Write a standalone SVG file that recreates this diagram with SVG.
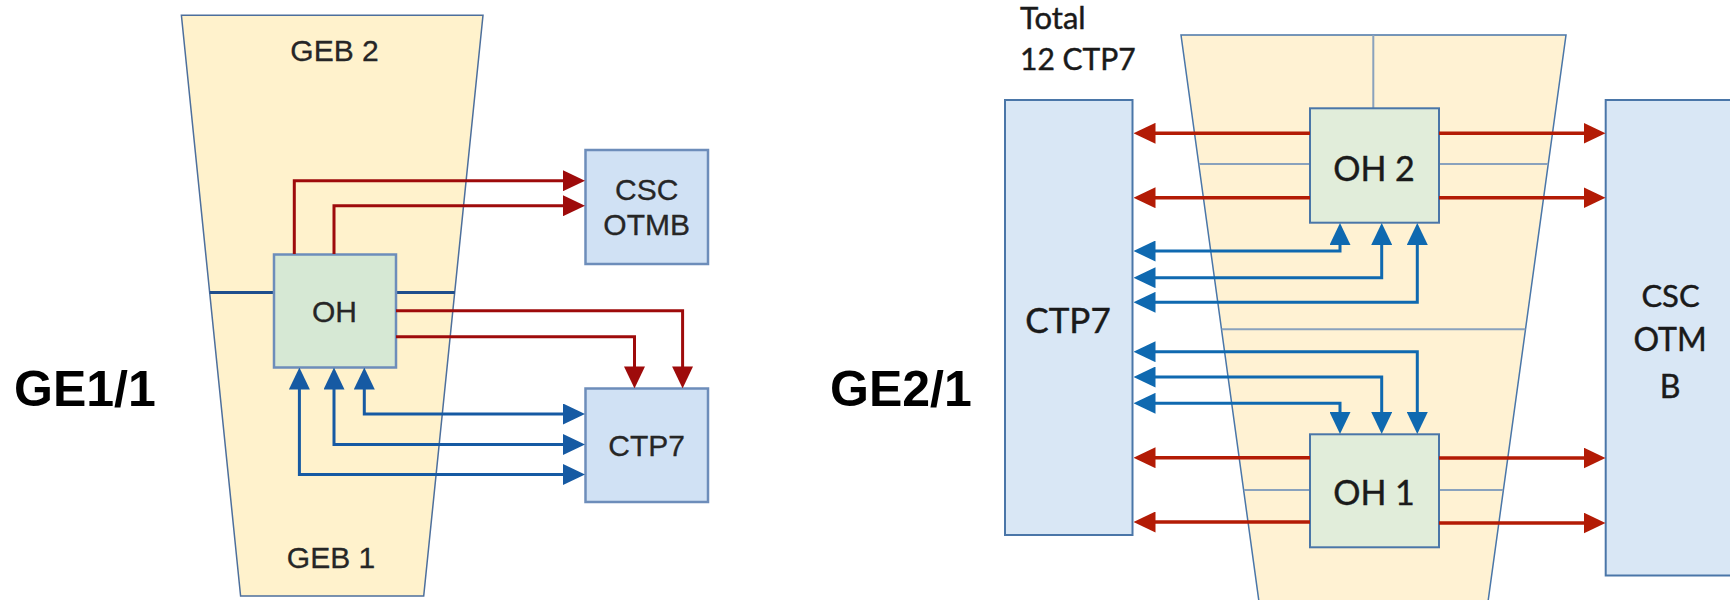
<svg xmlns="http://www.w3.org/2000/svg" width="1730" height="600" viewBox="0 0 1730 600">
<defs>
<style>
.geb1{fill:#fff2cc;stroke:#4d6f9c;stroke-width:1.5}
.geb2{fill:#fff2d3;stroke:#4a76a8;stroke-width:1.5}
.box1{fill:#d0e1f4;stroke:#6d8dba;stroke-width:2.5}
.oh1{fill:#d6e8d4;stroke:#6d8dba;stroke-width:2.5}
.box2{fill:#d9e7f5;stroke:#4a76a8;stroke-width:2}
.oh2{fill:#e1edda;stroke:#4a76a8;stroke-width:2}
.t1{font-family:"Liberation Sans",Arial,sans-serif;font-size:30px;fill:#262626;stroke:#262626;stroke-width:0.3;text-anchor:middle}
.t2{font-family:Lato,"Open Sans",sans-serif;fill:#1a1a1a;stroke:#1a1a1a;stroke-width:0.45}
.big{font-family:"Liberation Sans",Arial,sans-serif;font-size:50px;font-weight:bold;fill:#000}
.div{stroke:#8aa2bd;stroke-width:2;fill:none}
.bus{stroke:#1f4e8c;stroke-width:3;fill:none}
.r1{stroke:#9e0b0b;stroke-width:3;fill:none;marker-end:url(#mr1)}
.b1{stroke:#165aa3;stroke-width:3;fill:none;marker-start:url(#mb1);marker-end:url(#mb1)}
.r2{stroke:#b31b05;stroke-width:3.5;fill:none;marker-end:url(#mr2)}
.b2{stroke:#0f69b0;stroke-width:3;fill:none;marker-start:url(#mb2);marker-end:url(#mb2)}
</style>
<marker id="mr1" viewBox="0 0 22 21" refX="16" refY="10.5" markerWidth="22" markerHeight="21" markerUnits="userSpaceOnUse" orient="auto-start-reverse"><path d="M0,0L22,10.5L0,21z" fill="#9e0b0b"/></marker>
<marker id="mb1" viewBox="0 0 22 21" refX="16" refY="10.5" markerWidth="22" markerHeight="21" markerUnits="userSpaceOnUse" orient="auto-start-reverse"><path d="M0,0L22,10.5L0,21z" fill="#165aa3"/></marker>
<marker id="mr2" viewBox="0 0 22 21" refX="16" refY="10.5" markerWidth="22" markerHeight="21" markerUnits="userSpaceOnUse" orient="auto-start-reverse"><path d="M0,0L22,10.5L0,21z" fill="#b31b05"/></marker>
<marker id="mb2" viewBox="0 0 22 21" refX="16" refY="10.5" markerWidth="22" markerHeight="21" markerUnits="userSpaceOnUse" orient="auto-start-reverse"><path d="M0,0L22,10.5L0,21z" fill="#0f69b0"/></marker>
</defs>
<rect x="0" y="0" width="1730" height="600" fill="#fff"/>

<!-- GE1/1 -->
<g id="ge11-label"><text class="big" x="14" y="406">GE1/1</text></g>
<g id="ge11-chamber">
<polygon class="geb1" points="181.4,15.3 483,15.3 423.7,596 240.6,596"/>
<text class="t1" x="334.5" y="61">GEB 2</text>
<text class="t1" x="331" y="568">GEB 1</text>
<path class="bus" d="M209.7,292.5H274M396,292.5H454.7"/>
</g>
<g id="ge11-oh">
<rect class="oh1" x="274" y="254.5" width="122" height="113"/>
<text class="t1" x="334.5" y="322">OH</text>
</g>
<g id="ge11-otmb">
<rect class="box1" x="585.5" y="150" width="122.5" height="114"/>
<text class="t1" x="646.7" y="200">CSC</text>
<text class="t1" x="646.7" y="235">OTMB</text>
</g>
<g id="ge11-ctp7">
<rect class="box1" x="585.5" y="388.5" width="122.5" height="113.5"/>
<text class="t1" x="646.7" y="455.5">CTP7</text>
</g>
<g id="ge11-connectors">
<path class="r1" d="M294.3,254V180.7H579"/>
<path class="r1" d="M334,254V205.7H579"/>
<path class="r1" d="M396,310.7H682.6V382.4"/>
<path class="r1" d="M396,336.7H634.5V382.4"/>
<path class="b1" d="M364.3,373.5V414H579"/>
<path class="b1" d="M334,373.5V444.5H579"/>
<path class="b1" d="M299.4,373.5V474.5H579"/>
</g>

<!-- GE2/1 -->
<g id="ge21-label"><text class="big" x="830" y="406">GE2/1</text></g>
<g id="ge21-total">
<text class="t2" x="1020" y="29.3" font-size="31">Total</text>
<text class="t2" x="1020" y="70" font-size="30">12 CTP7</text>
</g>
<g id="ge21-chamber">
<polygon class="geb2" points="1181,35 1566,35 1486.6,612 1260.4,612"/>
<path class="div" d="M1373.3,35V108.3M1198.8,164H1310M1439,164H1548.2M1221.6,329.3H1525.4M1243.8,490H1310M1439,490H1503.2"/>
</g>
<g id="ge21-ctp7">
<rect class="box2" x="1005" y="100" width="127.5" height="435"/>
<text class="t2" x="1068" y="332.7" font-size="35" text-anchor="middle">CTP7</text>
</g>
<g id="ge21-oh2">
<rect class="oh2" x="1310" y="108.3" width="129" height="114.4"/>
<text class="t2" x="1374" y="180.7" font-size="34" text-anchor="middle">OH 2</text>
</g>
<g id="ge21-oh1">
<rect class="oh2" x="1310" y="434.3" width="129" height="113"/>
<text class="t2" x="1374" y="505" font-size="34" text-anchor="middle">OH 1</text>
</g>
<g id="ge21-otmb">
<rect class="box2" x="1605.7" y="100" width="140" height="475.5"/>
<text class="t2" x="1670.5" y="306.7" font-size="31" text-anchor="middle">CSC</text>
<text class="t2" x="1670" y="350.7" font-size="32" text-anchor="middle">OTM</text>
<text class="t2" x="1670" y="398" font-size="32" text-anchor="middle">B</text>
</g>
<g id="ge21-connectors">
<path class="r2" d="M1310,133.3H1139.5"/>
<path class="r2" d="M1310,197.7H1139.5"/>
<path class="r2" d="M1310,457.7H1139.5"/>
<path class="r2" d="M1310,522H1139.5"/>
<path class="r2" d="M1439,133.3H1599.5"/>
<path class="r2" d="M1439,197.7H1599.5"/>
<path class="r2" d="M1439,458H1599.5"/>
<path class="r2" d="M1439,523H1599.5"/>
<path class="b2" d="M1139.5,251H1340V229"/>
<path class="b2" d="M1139.5,277.7H1381.7V229"/>
<path class="b2" d="M1139.5,302.3H1417.3V229"/>
<path class="b2" d="M1139.5,351.7H1417.3V428"/>
<path class="b2" d="M1139.5,377H1381.7V428"/>
<path class="b2" d="M1139.5,403.3H1340V428"/>
</g>
</svg>
